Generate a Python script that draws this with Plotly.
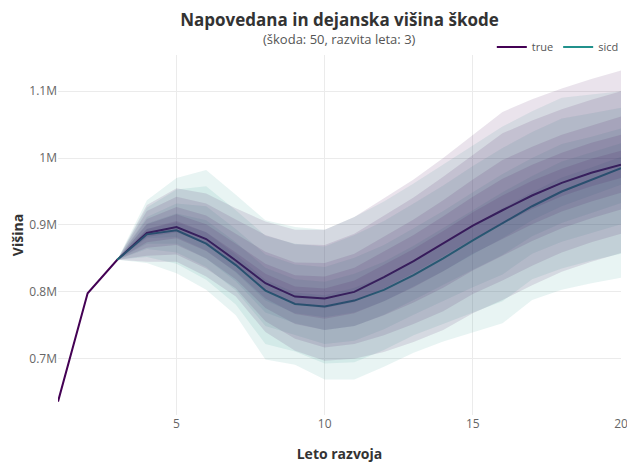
import plotly.graph_objects as go

# ---- data (values in millions) ----
years = list(range(1, 21))
fan_years = list(range(3, 21))

true_line = [0.636, 0.798, 0.848, 0.888, 0.897, 0.879, 0.847, 0.813, 0.793, 0.790,
             0.800, 0.822, 0.846, 0.872, 0.899, 0.922, 0.944, 0.963, 0.978, 0.990]

sicd_med = [0.848, 0.886, 0.892, 0.872, 0.840, 0.802, 0.782, 0.778, 0.787, 0.803, 0.825, 0.850, 0.877, 0.903, 0.928, 0.950, 0.967, 0.985]
sicd_q95 = [0.848, 0.937, 0.970, 0.982, 0.945, 0.907, 0.897, 0.893, 0.912, 0.935, 0.962, 0.990, 1.019, 1.047, 1.070, 1.090, 1.095, 1.100]
sicd_q90 = [0.848, 0.926, 0.953, 0.958, 0.922, 0.884, 0.872, 0.868, 0.885, 0.906, 0.932, 0.959, 0.988, 1.015, 1.039, 1.059, 1.067, 1.075]
sicd_q80 = [0.848, 0.912, 0.932, 0.928, 0.894, 0.856, 0.841, 0.837, 0.851, 0.870, 0.895, 0.921, 0.949, 0.976, 1.000, 1.021, 1.032, 1.044]
sicd_q70 = [0.848, 0.902, 0.917, 0.907, 0.874, 0.836, 0.819, 0.815, 0.827, 0.845, 0.869, 0.895, 0.922, 0.949, 0.973, 0.995, 1.008, 1.022]
sicd_q60 = [0.848, 0.894, 0.904, 0.889, 0.856, 0.818, 0.799, 0.795, 0.806, 0.823, 0.846, 0.871, 0.898, 0.925, 0.949, 0.971, 0.986, 1.002]
sicd_q40 = [0.848, 0.880, 0.882, 0.862, 0.829, 0.787, 0.768, 0.762, 0.769, 0.786, 0.808, 0.831, 0.856, 0.880, 0.907, 0.928, 0.944, 0.960]
sicd_q30 = [0.848, 0.872, 0.872, 0.850, 0.816, 0.769, 0.753, 0.743, 0.749, 0.766, 0.788, 0.810, 0.833, 0.855, 0.883, 0.903, 0.918, 0.933]
sicd_q20 = [0.848, 0.864, 0.859, 0.837, 0.802, 0.749, 0.736, 0.722, 0.727, 0.744, 0.766, 0.787, 0.807, 0.826, 0.857, 0.875, 0.888, 0.901]
sicd_q10 = [0.848, 0.852, 0.842, 0.818, 0.781, 0.722, 0.711, 0.693, 0.695, 0.713, 0.735, 0.753, 0.769, 0.786, 0.819, 0.835, 0.847, 0.857]
sicd_q05 = [0.848, 0.843, 0.828, 0.803, 0.765, 0.699, 0.691, 0.669, 0.669, 0.688, 0.709, 0.726, 0.739, 0.753, 0.788, 0.803, 0.813, 0.821]

true_q95 = [0.848, 0.930, 0.955, 0.947, 0.925, 0.905, 0.893, 0.893, 0.912, 0.940, 0.968, 1.000, 1.034, 1.069, 1.088, 1.104, 1.118, 1.131]
true_q90 = [0.848, 0.921, 0.942, 0.932, 0.908, 0.885, 0.871, 0.870, 0.887, 0.914, 0.941, 0.972, 1.004, 1.037, 1.056, 1.073, 1.087, 1.100]
true_q80 = [0.848, 0.909, 0.927, 0.914, 0.887, 0.860, 0.844, 0.843, 0.857, 0.882, 0.908, 0.937, 0.968, 0.997, 1.017, 1.035, 1.049, 1.062]
true_q70 = [0.848, 0.901, 0.916, 0.901, 0.872, 0.842, 0.825, 0.823, 0.836, 0.860, 0.885, 0.913, 0.942, 0.969, 0.990, 1.008, 1.023, 1.035]
true_q60 = [0.848, 0.894, 0.906, 0.889, 0.859, 0.827, 0.808, 0.805, 0.817, 0.840, 0.864, 0.891, 0.919, 0.944, 0.966, 0.984, 0.999, 1.011]
true_q40 = [0.848, 0.882, 0.889, 0.871, 0.839, 0.802, 0.781, 0.776, 0.785, 0.805, 0.828, 0.853, 0.879, 0.902, 0.924, 0.943, 0.958, 0.970]
true_q30 = [0.848, 0.874, 0.880, 0.861, 0.830, 0.790, 0.767, 0.760, 0.768, 0.786, 0.807, 0.831, 0.857, 0.879, 0.901, 0.920, 0.935, 0.948]
true_q20 = [0.848, 0.866, 0.870, 0.850, 0.819, 0.776, 0.752, 0.743, 0.749, 0.765, 0.784, 0.806, 0.832, 0.854, 0.876, 0.895, 0.910, 0.923]
true_q10 = [0.848, 0.854, 0.856, 0.835, 0.805, 0.756, 0.730, 0.717, 0.722, 0.735, 0.752, 0.771, 0.797, 0.817, 0.839, 0.859, 0.874, 0.887]
true_q05 = [0.848, 0.845, 0.845, 0.823, 0.793, 0.740, 0.712, 0.697, 0.700, 0.710, 0.725, 0.743, 0.768, 0.788, 0.810, 0.830, 0.845, 0.858]

y_tickvals = [0.7, 0.8, 0.9, 1.0, 1.1]
y_ticktext = ["0.7M", "0.8M", "0.9M", "1M", "1.1M"]
x_tickvals = [5, 10, 15, 20]

TRUE_COLOR = "#440154"
SICD_COLOR = "#21918c"
TRUE_FILL = "rgba(68,1,84,0.11)"
SICD_FILL = "rgba(33,145,140,0.10)"

fig = go.Figure()

fig.add_trace(go.Scatter(x=years, y=true_line, mode="lines", name="true",
                         line=dict(color=TRUE_COLOR, width=2)))
fig.add_trace(go.Scatter(x=fan_years, y=sicd_med, mode="lines", name="sicd",
                         line=dict(color=SICD_COLOR, width=2)))

sicd_bands = [(sicd_q05, sicd_q95), (sicd_q10, sicd_q90), (sicd_q20, sicd_q80),
              (sicd_q30, sicd_q70), (sicd_q40, sicd_q60)]
true_bands = [(true_q05, true_q95), (true_q10, true_q90), (true_q20, true_q80),
              (true_q30, true_q70), (true_q40, true_q60)]

for bands, fillc in ((sicd_bands, SICD_FILL), (true_bands, TRUE_FILL)):
    for lo, hi in bands:
        fig.add_trace(go.Scatter(
            x=fan_years + fan_years[::-1],
            y=hi + lo[::-1],
            fill="toself", fillcolor=fillc, mode="lines",
            line=dict(width=0, color=fillc),
            hoverinfo="skip", showlegend=False))

fig.update_layout(
    width=627, height=462,
    paper_bgcolor="white", plot_bgcolor="white",
    font=dict(family="Open Sans", color="#555555", size=12),
    margin=dict(l=50, r=7, t=47, b=55),
    title=dict(text="<b>Napovedana in dejanska višina škode</b>",
               x=0.5, xref="paper", xanchor="center", y=0.975, yanchor="middle",
               font=dict(size=17, color="#333333")),
    annotations=[dict(text="(škoda: 50, razvita leta: 3)", xref="paper", yref="paper",
                      x=0.5, y=1, yshift=16, xanchor="center", yanchor="middle",
                      showarrow=False, font=dict(size=13, color="#555555"))],
    legend=dict(orientation="h", x=1.005, xanchor="right", y=0.982, yanchor="bottom",
                font=dict(size=11, color="#555555"), bgcolor="rgba(0,0,0,0)",
                itemwidth=30, tracegroupgap=0),
    xaxis=dict(range=[1, 20], tickvals=x_tickvals, showgrid=True, gridcolor="#ebebeb",
               zeroline=False, showline=False,
               title=dict(text="<b>Leto razvoja</b>", font=dict(size=14, color="#333333"),
                          standoff=18),
               tickfont=dict(size=12, color="#666666")),
    yaxis=dict(range=[0.616, 1.154], tickvals=y_tickvals, ticktext=y_ticktext,
               showgrid=True, gridcolor="#ebebeb", zeroline=False, showline=False,
               title=dict(text="<b>Višina</b>", font=dict(size=14, color="#333333"),
                          standoff=4),
               tickfont=dict(size=12, color="#666666")),
)

fig.write_html("out.html")
